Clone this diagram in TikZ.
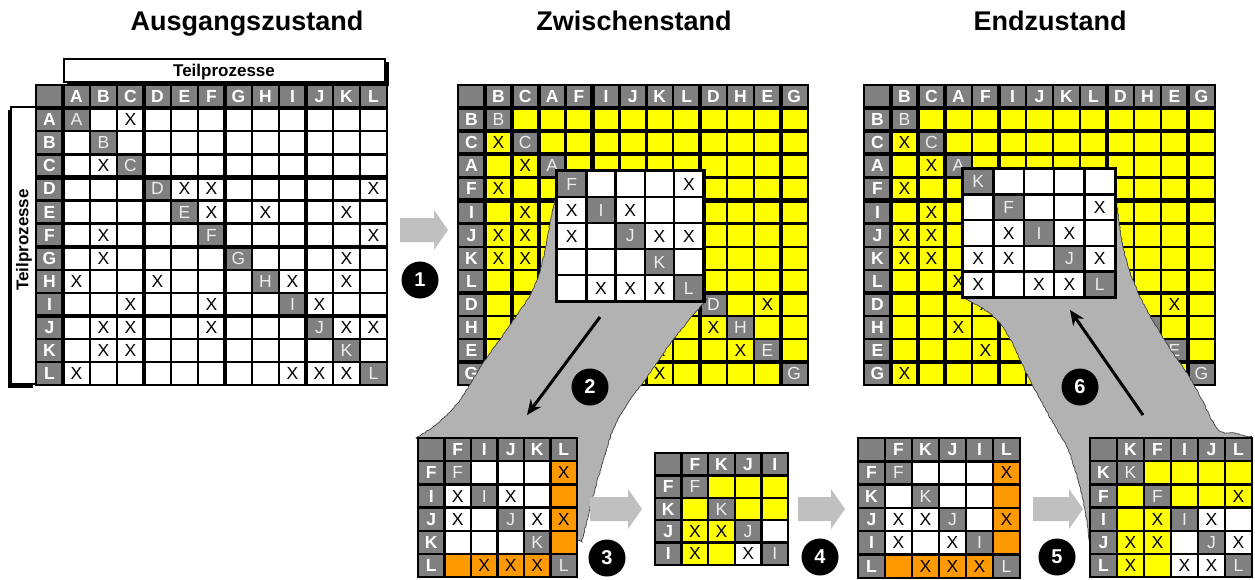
\documentclass[tikz,border=0pt]{standalone}
\usepackage{fontspec}
\setmainfont{Liberation Sans}
\usetikzlibrary{arrows.meta,decorations.pathmorphing}
\definecolor{ink}{HTML}{000000}
\definecolor{cellgray}{HTML}{808080}
\definecolor{dsmyellow}{HTML}{FFFF00}
\definecolor{dsmorange}{HTML}{FF9900}
\definecolor{lensgray}{HTML}{B2B2B2}
\definecolor{steparrow}{HTML}{C0C0C0}

% one cell of a matrix, inset so the black ground shows as grid lines
\newcommand\dsmcell[3]{\fill[#3] ([shift={(1.2pt,-1.2pt)}]#1,#2) rectangle ([shift={(-1.2pt,1.2pt)}]#1+1,#2+1);}
% matrix with header row and column: name, size, labels, cell colour,
% first and last diagonal label hidden below a zoom window
\newcommand\dsmmat[6]{%
  \fill[ink] ([shift={(-1pt,1pt)}]0,0) rectangle ([shift={(1pt,-1pt)}]#2+1,#2+1);
  \dsmcell{0}{0}{cellgray}
  \foreach \l [count=\i] in {#3}{%
    \foreach \j in {1,...,#2}{\dsmcell{\i}{\j}{#4}}
    \dsmcell{\i}{0}{cellgray}\dsmcell{0}{\i}{cellgray}\dsmcell{\i}{\i}{cellgray}
    \node[hd] (#1-c\i) at (\i+.5,.5) {\l};
    \node[hd] (#1-r\i) at (.5,\i+.5) {\l};
    \ifnum\i<#5 \node[dg] (#1-d\i) at (\i+.5,\i+.5) {\l};
    \else\ifnum\i>#6 \node[dg] (#1-d\i) at (\i+.5,\i+.5) {\l};\fi\fi
  }}
% zoomed part without header
\newcommand\dsmwin[4]{%
  \fill[ink] ([shift={(-2pt,2pt)}]1,1) rectangle ([shift={(2pt,-2pt)}]#2+1,#2+1);
  \foreach \l [count=\i] in {#3}{%
    \foreach \j in {1,...,#2}{\dsmcell{\i}{\j}{#4}}
    \dsmcell{\i}{\i}{cellgray}
    \node[dg] (#1-d\i) at (\i+.5,\i+.5) {\l};
  }}
% fat grey step arrow: left end x, middle y, length
\newcommand\steparrow[3]{\fill[steparrow] (#1,#2) ++(0,-12) -- ++(#3-14,0) -- ++(0,-8)
  -- ++(14,20) -- ++(-14,20) -- ++(0,-8) -- ++(-#3+14,0) -- cycle;}

\begin{document}
\begin{tikzpicture}[
  x=1pt,y=-1pt,
  hd/.style={text=white,font=\fontsize{17.5}{18}\selectfont\bfseries,inner sep=0pt},
  dg/.style={text=white!85!gray,font=\fontsize{17.5}{18}\selectfont,inner sep=0pt},
  xm/.style={text=ink,font=\fontsize{17.5}{18}\selectfont,inner sep=0pt},
  blk/.style={draw=ink,line width=4.2pt},
  title/.style={font=\fontsize{27}{30}\selectfont\bfseries,anchor=base},
  lbl/.style={font=\fontsize{17}{18}\selectfont\bfseries,inner sep=0pt},
  lens/.style={fill=lensgray,draw=ink!75,line width=0.7pt,decorate,
    decoration={random steps,segment length=2pt,amplitude=0.5pt}},
  num/.style={circle,fill=ink,text=white,minimum size=37pt,inner sep=0pt,
    font=\fontsize{20}{20}\selectfont\bfseries},
  flow/.style={-{Stealth[length=15pt,width=13pt]},line width=3pt,draw=ink}
]
\useasboundingbox (0,0) rectangle (1255,579);

\node[title] (t0) at (247,30) {Ausgangszustand};
\node[title] (t1) at (634,30) {Zwischenstand};
\node[title] (t2) at (1050,30) {Endzustand};

% Teilprozesse labels
\fill[ink] (67,62) rectangle (389,86);
\filldraw[fill=white,draw=ink,line width=1.5pt] (64,59) rectangle (385,82);
\node[lbl,anchor=base] (tph) at (224,76.5) {Teilprozesse};
\fill[ink] (8,110) rectangle (33,388);
\filldraw[fill=white,draw=ink,line width=1.5pt] (11,107) rectangle (36,384);
\node[lbl,rotate=90] (tpv) at (24,240) {Teilprozesse};

% Ausgangszustand
\begin{scope}[shift={(36,85)},x=27pt,y=-23.1pt]
  \dsmmat{L0}{12}{A,B,C,D,E,F,G,H,I,J,K,L}{white}{99}{99}
  \foreach \k in {1,4,7,10}{\draw[blk] (\k,0) -- (\k,13); \draw[blk] (0,\k) -- (13,\k);}
  \foreach \col/\row in {3/1,2/3,5/4,6/4,12/4,6/5,8/5,11/5,2/6,12/6,2/7,11/7,1/8,4/8,9/8,11/8,
      3/9,6/9,10/9,2/10,3/10,6/10,11/10,12/10,2/11,3/11,1/12,9/12,10/12,11/12}
    \node[xm] (L0-x\col-\row) at (\col+.5,\row+.5) {X};
\end{scope}

% Zwischenstand
\begin{scope}[shift={(458,85)},x=26.9pt,y=-23.1pt]
  \dsmmat{Z0}{12}{B,C,A,F,I,J,K,L,D,H,E,G}{dsmyellow}{4}{8}
  \foreach \k in {1,2,3,5,9,12}{\draw[blk] (\k,0) -- (\k,13); \draw[blk] (0,\k) -- (13,\k);}
  \foreach \col/\row in {1/2,2/3,1/4,2/5,1/6,2/6,1/7,2/7,3/8,
      4/9,8/9,11/9,3/10,5/10,7/10,9/10,4/11,7/11,10/11,1/12,7/12}
    \node[xm] (Z0-x\col-\row) at (\col+.5,\row+.5) {X};
\end{scope}

% Endzustand
\begin{scope}[shift={(864,85)},x=27pt,y=-23.1pt]
  \dsmmat{E0}{12}{B,C,A,F,I,J,K,L,D,H,E,G}{dsmyellow}{4}{8}
  \foreach \k in {1,2,3,5,9,12}{\draw[blk] (\k,0) -- (\k,13); \draw[blk] (0,\k) -- (13,\k);}
  \foreach \col/\row in {1/2,2/3,1/4,2/5,1/6,2/6,1/7,2/7,3/8,
      4/9,8/9,11/9,3/10,5/10,7/10,9/10,4/11,7/11,10/11,1/12,7/12}
    \node[xm] (E0-x\col-\row) at (\col+.5,\row+.5) {X};
\end{scope}

% zoom funnels
\filldraw[lens] plot[smooth,tension=.6] coordinates {(557,190) (552,213) (537,280) (510,325)
    (483,363) (460,400) (438,423) (416,438)}
  -- (500,500)
  -- plot[smooth,tension=.6] coordinates {(582,542) (592,500) (604,458) (613,430) (628,403)
    (650,373) (676,336) (707,299)}
  -- (557,300) -- cycle;
\filldraw[lens] plot[smooth,tension=.6] coordinates {(963,298) (1000,323) (1030,380) (1053,423)
    (1067,447) (1078,480) (1085,510) (1090,545)}
  -- (1170,500)
  -- plot[smooth,tension=.6] coordinates {(1252,438) (1235,433) (1217,428) (1193,383) (1160,333)
    (1137,290) (1123,247) (1115,187)}
  -- (1115,297) -- cycle;

\begin{scope}[shift={(557,171)},x=29.3pt,y=-26pt,shift={(-1,-1)}]
  \dsmwin{Z1}{5}{F,I,J,K,L}{white}
  \foreach \col/\row in {5/1,1/2,3/2,1/3,4/3,5/3,2/5,3/5,4/5}
    \node[xm] (Z1-x\col-\row) at (\col+.5,\row+.5) {X};
\end{scope}
\begin{scope}[shift={(963,169)},x=30.4pt,y=-25.6pt,shift={(-1,-1)}]
  \dsmwin{E1}{5}{K,F,I,J,L}{white}
  \foreach \col/\row in {5/2,2/3,4/3,1/4,2/4,5/4,1/5,3/5,4/5}
    \node[xm] (E1-x\col-\row) at (\col+.5,\row+.5) {X};
\end{scope}

% steps 2 to 6
\begin{scope}[shift={(418,438)},x=26.5pt,y=-23.2pt]
  \dsmmat{S3}{5}{F,I,J,K,L}{white}{99}{99}
  \foreach \k in {1,...,4}{\dsmcell{\k}{5}{dsmorange}\dsmcell{5}{\k}{dsmorange}}
  \foreach \col/\row in {5/1,1/2,3/2,1/3,4/3,5/3,2/5,3/5,4/5}
    \node[xm] (S3-x\col-\row) at (\col+.5,\row+.5) {X};
\end{scope}
\begin{scope}[shift={(655,453)},x=26.6pt,y=-22.4pt]
  \dsmmat{S4}{4}{F,K,J,I}{dsmyellow}{99}{99}
  \dsmcell{4}{3}{white}\dsmcell{3}{4}{white}
  \foreach \col/\row in {1/3,2/3,1/4,3/4}
    \node[xm] (S4-x\col-\row) at (\col+.5,\row+.5) {X};
\end{scope}
\begin{scope}[shift={(858,438)},x=27pt,y=-23.3pt]
  \dsmmat{S5}{5}{F,K,J,I,L}{white}{99}{99}
  \foreach \k in {1,...,4}{\dsmcell{\k}{5}{dsmorange}\dsmcell{5}{\k}{dsmorange}}
  \foreach \col/\row in {5/1,1/3,2/3,5/3,1/4,3/4,2/5,3/5,4/5}
    \node[xm] (S5-x\col-\row) at (\col+.5,\row+.5) {X};
\end{scope}
\begin{scope}[shift={(1090,438)},x=27pt,y=-23.2pt]
  \dsmmat{S6}{5}{K,F,I,J,L}{dsmyellow}{99}{99}
  \foreach \col/\row in {4/3,5/3,3/4,5/4,3/5,4/5}{\dsmcell{\col}{\row}{white}}
  \foreach \col/\row in {5/2,2/3,4/3,1/4,2/4,5/4,1/5,3/5,4/5}
    \node[xm] (S6-x\col-\row) at (\col+.5,\row+.5) {X};
\end{scope}

% block arrows
\steparrow{400}{230}{48}
\steparrow{590}{509}{52}
\steparrow{798}{509}{47}
\steparrow{1033}{509}{50}

% zoom arrows
\coordinate (f2a) at (600,317);
\coordinate (f2b) at (527,415);
\coordinate (f6a) at (1143,415);
\coordinate (f6b) at (1070,310);
\draw[flow] (f2a) -- (f2b);
\draw[flow] (f6a) -- (f6b);

\node[num] (s1) at (420,280) {1};
\node[num] (s2) at (590,387) {2};
\node[num] (s3) at (607,558) {3};
\node[num] (s4) at (820,557) {4};
\node[num] (s5) at (1057,557) {5};
\node[num] (s6) at (1080,387) {6};
\end{tikzpicture}
\end{document}
